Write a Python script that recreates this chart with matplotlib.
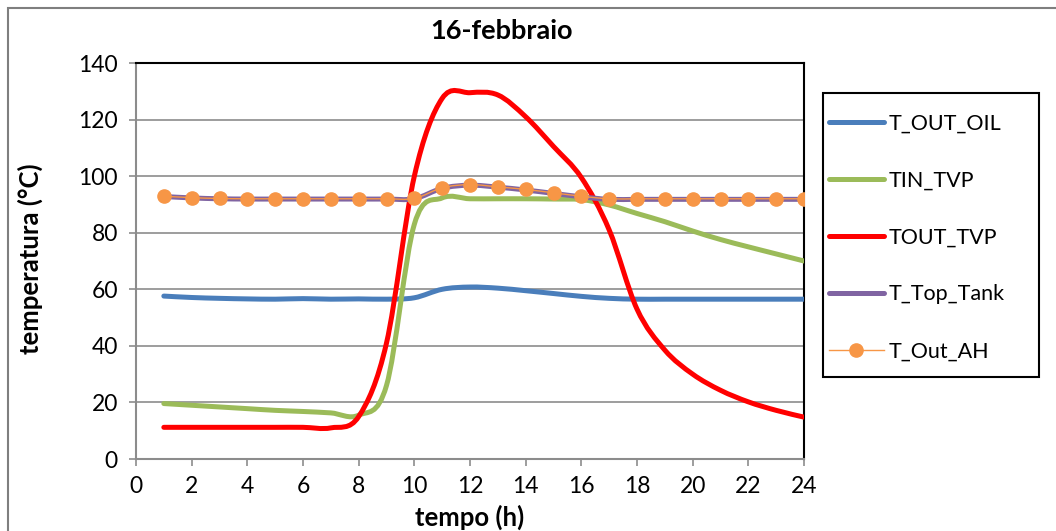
import matplotlib
matplotlib.use("Agg")
import matplotlib.pyplot as plt
from matplotlib.path import Path
from matplotlib.patches import PathPatch, Rectangle
from matplotlib.lines import Line2D
import numpy as np

plt.rcParams['font.family'] = ['Lato', 'DejaVu Sans']

hours = list(range(1, 25))
t_out_oil = [57.6, 57.1, 56.8, 56.6, 56.5, 56.7, 56.5, 56.6, 56.5, 57.0, 60.0, 60.8,
             60.4, 59.5, 58.5, 57.5, 56.8, 56.5, 56.5, 56.5, 56.5, 56.5, 56.5, 56.5]
tin_tvp = [19.6, 19.0, 18.4, 17.8, 17.2, 16.8, 16.3, 15.5, 26.0, 83.0, 92.3, 92.0,
           92.0, 92.0, 91.9, 91.7, 89.8, 86.8, 83.9, 80.6, 77.6, 75.0, 72.5, 70.0]
tout_tvp = [11.2, 11.2, 11.2, 11.2, 11.2, 11.2, 11.0, 15.0, 41.0, 100.0, 127.5, 129.5,
            128.7, 121.0, 110.5, 99.5, 81.0, 53.0, 38.5, 30.0, 24.3, 20.2, 17.2, 14.8]
t_top_tank = [92.8, 92.3, 92.0, 91.9, 91.9, 91.9, 91.9, 91.9, 91.9, 92.0, 95.7, 96.8,
              96.1, 95.1, 93.9, 92.7, 91.8, 91.8, 91.8, 91.8, 91.8, 91.8, 91.8, 91.8]
t_out_ah = [92.9, 92.4, 92.1, 92.0, 92.0, 92.0, 92.0, 92.0, 92.0, 92.1, 95.9, 97.0,
            96.2, 95.3, 94.1, 92.9, 92.0, 92.0, 92.0, 92.0, 92.0, 92.0, 92.0, 92.0]

labels = ["T_OUT_OIL", "TIN_TVP", "TOUT_TVP", "T_Top_Tank", "T_Out_AH"]
colors = ["#4A7EBB", "#9BBB59", "#FF0000", "#8064A2", "#F79646"]
title = "16-febbraio"
xlabel = "tempo (h)"
ylabel = "temperatura (°C)"


def smooth_path(x, y):
    pts = np.column_stack([x, y]).astype(float)
    n = len(pts)
    verts = [pts[0]]
    codes = [Path.MOVETO]
    for i in range(n - 1):
        p0 = pts[i - 1] if i > 0 else pts[i]
        p1 = pts[i]
        p2 = pts[i + 1]
        p3 = pts[i + 2] if i + 2 < n else pts[i + 1]
        c1 = p1 + (p2 - p0) / 6.0
        c2 = p2 - (p3 - p1) / 6.0
        verts += [c1, c2, p2]
        codes += [Path.CURVE4] * 3
    return Path(verts, codes)


fig = plt.figure(figsize=(10.56, 5.31), dpi=100)
ax = fig.add_axes([136 / 1056, 1 - 459 / 531, (804 - 136) / 1056, (459 - 63) / 531])

series = [t_out_oil, tin_tvp, tout_tvp, t_top_tank, t_out_ah]
widths = [3.6, 3.6, 3.6, 3.6, 1.0]
for i, (vals, c, lw) in enumerate(zip(series, colors, widths)):
    p = smooth_path(hours, vals)
    ax.add_patch(PathPatch(p, transform=ax.transData, fill=False, edgecolor=c,
                           lw=lw, capstyle='round', joinstyle='round', zorder=3 + i))
ax.plot(hours, t_out_ah, ls='none', marker='o', ms=9.5, color=colors[4],
        markeredgecolor=colors[4], zorder=9)

ax.set_xlim(0, 24)
ax.set_ylim(0, 140)
ax.set_xticks(range(0, 25, 2))
ax.set_yticks(range(0, 141, 20))
ax.yaxis.grid(True, color='#8C8C8C', lw=1.2)
ax.set_axisbelow(True)
for s in ['left', 'bottom']:
    ax.spines[s].set_color('#8C8C8C')
    ax.spines[s].set_linewidth(1.5)
for s in ['top', 'right']:
    ax.spines[s].set_color('black')
    ax.spines[s].set_linewidth(1.5)
ax.tick_params(axis='both', direction='out', length=5, width=1.2, color='#8C8C8C',
               labelsize=16.5, labelcolor='black')
ax.tick_params(axis='y', pad=8)
ax.tick_params(axis='x', pad=7)

fig.text(502 / 1056, 1 - 31 / 531, title, ha='center', va='center', fontsize=19.5,
         fontweight='bold')
fig.text(470 / 1056, 1 - 517 / 531, xlabel, ha='center', va='center', fontsize=18.5,
         fontweight='bold')
fig.text(30 / 1056, 1 - 259 / 531, ylabel, ha='center', va='center', fontsize=18.5,
         fontweight='bold', rotation=90)

handles = []
for i, (lab, c) in enumerate(zip(labels, colors)):
    if i < 4:
        handles.append(Line2D([], [], color=c, lw=3.6, solid_capstyle='round', label=lab))
    else:
        handles.append(Line2D([], [], color=c, lw=1.0, marker='o', ms=9.5,
                              markeredgecolor=c, label=lab))
leg = fig.legend(handles=handles, loc='upper left',
                 bbox_to_anchor=(829 / 1056, 1 - 114 / 531), bbox_transform=fig.transFigure,
                 frameon=False, fontsize=15.5,
                 labelspacing=1.71, handlelength=2.55, handletextpad=0.2,
                 borderpad=0, borderaxespad=0)

fig.add_artist(Rectangle((823 / 1056, 1 - 377 / 531), 216 / 1056, 284 / 531,
                         transform=fig.transFigure, fill=False, edgecolor='black',
                         lw=1.5))
fig.add_artist(Rectangle((7.5 / 1056, -10 / 531), 1100 / 1056, (531 - 7.5 + 10) / 531,
                         transform=fig.transFigure, fill=False, edgecolor='#7F7F7F',
                         lw=1.5))

fig.savefig("out.png", dpi=100)
